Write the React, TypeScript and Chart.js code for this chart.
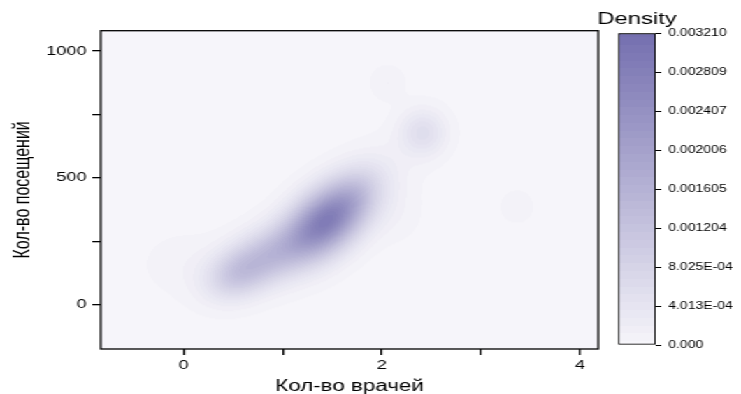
import React, { useEffect, useRef } from 'react';
import { Chart, registerables } from 'chart.js';

Chart.register(...registerables);

// ---- axis data ----
const xTickValues = [0, 1, 2, 3, 4];
const xTickLabels = ['0', '', '2', '', '4'];
const yTickValues = [0, 250, 500, 750, 1000];
const yTickLabels = ['0', '', '500', '', '1000'];
const xMin = -0.8375;
const xMax = 4.184;
const yMin = -174.7;
const yMax = 1080;

// ---- density kernels (centre, spread, correlation, peak density) ----
const kernelX = [1.43, 0.82, 1.729, 0.013, 2.415, 2.06, 3.363, 2.03, 2.13, 0.52];
const kernelY = [326, 184, 433, 157, 677, 874, 385, 531, 354, 112];
const kernelSx = [0.276, 0.3, 0.2, 0.3, 0.16, 0.12, 0.12, 0.25, 0.2, 0.2];
const kernelSy = [102, 85, 80, 87, 63, 47, 47, 100, 80, 65];
const kernelRho = [0.44, 0.44, 0.3, 0, 0, 0, 0, 0.2, 0, 0.2];
const kernelPeak = [0.0027, 0.0012, 0.0005, 0.00009, 0.00055, 0.00012, 0.0001, 0.0001, 0.00008, 0.0006];

// ---- colour bar ----
const densityMax = 0.00321;
const colorbarValues = [0, 0.0004013, 0.0008025, 0.001204, 0.001605, 0.002006, 0.002407, 0.002809, 0.00321];
const colorbarLabels = ['0.000', '4.013E-04', '8.025E-04', '0.001204', '0.001605', '0.002006', '0.002407', '0.002809', '0.003210'];
const lowColor = [246, 245, 250];
const highColor = [116, 111, 175];
const levels = 40;

const FONT = '"Liberation Sans", Arial, Helvetica, sans-serif';
const S = 741 / 530; // horizontal stretch of the whole figure
const W = 530;
const H = 394;

function colorAt(t: number): [number, number, number] {
  const q = Math.round(Math.max(0, Math.min(1, t)) * levels) / levels;
  return [
    Math.round(lowColor[0] + (highColor[0] - lowColor[0]) * q),
    Math.round(lowColor[1] + (highColor[1] - lowColor[1]) * q),
    Math.round(lowColor[2] + (highColor[2] - lowColor[2]) * q),
  ];
}

function densityAt(xv: number, yv: number): number {
  let d = 0;
  for (let k = 0; k < kernelX.length; k++) {
    const dx = (xv - kernelX[k]) / kernelSx[k];
    const dy = (yv - kernelY[k]) / kernelSy[k];
    const r = kernelRho[k];
    const q = (dx * dx - 2 * r * dx * dy + dy * dy) / (1 - r * r);
    d += kernelPeak[k] * Math.exp(-0.5 * q);
  }
  return d;
}

const densityPlugin = {
  id: 'densityField',
  beforeDatasetsDraw(chart: any) {
    const { ctx, chartArea: a, scales } = chart;
    const xs = scales.x;
    const ys = scales.y;
    const w = Math.ceil(a.right - a.left);
    const h = Math.ceil(a.bottom - a.top);
    const off = document.createElement('canvas');
    off.width = w;
    off.height = h;
    const octx = off.getContext('2d')!;
    const img = octx.createImageData(w, h);
    for (let j = 0; j < h; j++) {
      const yv = ys.getValueForPixel(a.top + j + 0.5);
      for (let i = 0; i < w; i++) {
        const xv = xs.getValueForPixel(a.left + i + 0.5);
        const c = colorAt(densityAt(xv, yv) / densityMax);
        const p = (j * w + i) * 4;
        img.data[p] = c[0];
        img.data[p + 1] = c[1];
        img.data[p + 2] = c[2];
        img.data[p + 3] = 255;
      }
    }
    octx.putImageData(img, 0, 0);
    ctx.save();
    ctx.drawImage(off, a.left, a.top, a.right - a.left, a.bottom - a.top);
    ctx.restore();
  },
  afterDatasetsDraw(chart: any) {
    const { ctx, chartArea: a } = chart;
    ctx.save();
    ctx.strokeStyle = '#000';
    ctx.lineWidth = 1.3;
    ctx.strokeRect(a.left, a.top, a.right - a.left, a.bottom - a.top);
    ctx.restore();
  },
};

const colorbarTitlePlugin = {
  id: 'colorbarTitle',
  afterDraw(chart: any) {
    const { ctx, chartArea: a } = chart;
    ctx.save();
    ctx.font = `17px ${FONT}`;
    ctx.fillStyle = '#000';
    ctx.textAlign = 'center';
    ctx.textBaseline = 'middle';
    ctx.fillText('Density', (a.left + a.right) / 2, 19);
    ctx.restore();
  },
};

export default function App() {
  const mainRef = useRef<HTMLCanvasElement>(null);
  const barRef = useRef<HTMLCanvasElement>(null);

  const cbOffset = 405;
  const cbWidth = W - cbOffset;

  useEffect(() => {
    document.body.style.margin = '0';
    const plotLeft = 100.7 / S;
    const plotRight = 598.3 / S;
    const main = new Chart(mainRef.current!, {
      type: 'scatter',
      data: {
        datasets: [
          {
            data: kernelX.map((x, i) => ({ x, y: kernelY[i] })),
            pointRadius: 0,
            pointHoverRadius: 0,
            showLine: false,
          },
        ],
      },
      options: {
        responsive: false,
        animation: false,
        events: [],
        layout: { padding: { top: 30.7, left: 0, right: W - plotRight, bottom: 0 } },
        plugins: { legend: { display: false }, tooltip: { enabled: false } },
        scales: {
          x: {
            type: 'linear',
            min: xMin,
            max: xMax,
            afterBuildTicks: (s: any) => {
              s.ticks = xTickValues.map((v) => ({ value: v }));
            },
            afterFit: (s: any) => {
              s.height = 45;
            },
            ticks: {
              callback: (v: any) => xTickLabels[xTickValues.indexOf(Number(v))] ?? '',
              font: { family: FONT, size: 13 },
              color: '#000',
              maxRotation: 0,
              autoSkip: false,
              padding: 3,
            },
            grid: { drawOnChartArea: false, drawTicks: true, tickLength: 6, color: '#000', lineWidth: 1.3 },
            border: { display: false },
            title: {
              display: true,
              text: 'Кол-во врачей',
              color: '#000',
              font: { family: FONT, size: 16, lineHeight: 1 },
              padding: { top: 0, bottom: -1 },
            },
          },
          y: {
            type: 'linear',
            min: yMin,
            max: yMax,
            afterBuildTicks: (s: any) => {
              s.ticks = yTickValues.map((v) => ({ value: v }));
            },
            afterFit: (s: any) => {
              s.width = plotLeft;
            },
            ticks: {
              callback: (v: any) => yTickLabels[yTickValues.indexOf(Number(v))] ?? '',
              font: { family: FONT, size: 13 },
              color: '#000',
              autoSkip: false,
              padding: 4,
            },
            grid: { drawOnChartArea: false, drawTicks: true, tickLength: 6, color: '#000', lineWidth: 1.3 },
            border: { display: false },
            title: {
              display: true,
              text: 'Кол-во посещений',
              color: '#000',
              font: { family: FONT, size: 16, lineHeight: 1 },
              padding: { top: 9, bottom: 0 },
            },
          },
        },
      },
      plugins: [densityPlugin],
    } as any);

    const barLeftPage = 618.3;
    const barRightPage = 655.7;
    const barLeft = barLeftPage / S - cbOffset;
    const barRight = barRightPage / S - cbOffset;
    const bar = new Chart(barRef.current!, {
      type: 'bar',
      data: {
        labels: [''],
        datasets: [
          {
            data: [densityMax],
            backgroundColor: (c: any) => {
              const area = c.chart.chartArea;
              if (!area) return 'rgb(180,178,213)';
              const g = c.chart.ctx.createLinearGradient(0, area.bottom, 0, area.top);
              for (let k = 0; k <= levels; k++) {
                const [r, gg, b] = colorAt(k / levels);
                const col = `rgb(${r},${gg},${b})`;
                g.addColorStop(Math.max(0, (k - 0.5) / levels), col);
                g.addColorStop(Math.min(1, (k + 0.5) / levels), col);
              }
              return g;
            },
            borderColor: '#000',
            borderWidth: 1.2,
            borderSkipped: false,
            barPercentage: 1,
            categoryPercentage: 1,
          },
        ],
      },
      options: {
        responsive: false,
        animation: false,
        events: [],
        layout: { padding: { top: 33.3, left: barLeft, right: 0, bottom: 49 } },
        plugins: { legend: { display: false }, tooltip: { enabled: false } },
        scales: {
          x: { display: false },
          y: {
            position: 'right',
            min: 0,
            max: densityMax,
            afterBuildTicks: (s: any) => {
              s.ticks = colorbarValues.map((v) => ({ value: v }));
            },
            afterFit: (s: any) => {
              s.width = cbWidth - barRight;
            },
            ticks: {
              callback: (_v: any, i: number) => colorbarLabels[i] ?? '',
              font: { family: FONT, size: 10 },
              color: '#000',
              autoSkip: false,
              padding: 5,
            },
            grid: { drawOnChartArea: false, drawTicks: true, tickLength: 4, color: '#000', lineWidth: 1 },
            border: { display: false },
          },
        },
      },
      plugins: [colorbarTitlePlugin],
    } as any);

    return () => {
      main.destroy();
      bar.destroy();
    };
  }, []);

  return (
    <div style={{ position: 'relative', width: 741, height: 394, overflow: 'hidden', background: '#fff' }}>
      <div
        style={{
          position: 'absolute',
          left: 0,
          top: 0,
          width: W,
          height: H,
          transform: `scaleX(${S})`,
          transformOrigin: '0 0',
        }}
      >
        <canvas ref={mainRef} width={W} height={H} style={{ position: 'absolute', left: 0, top: 0 }} />
        <canvas ref={barRef} width={cbWidth} height={H} style={{ position: 'absolute', left: cbOffset, top: 0 }} />
      </div>
    </div>
  );
}
